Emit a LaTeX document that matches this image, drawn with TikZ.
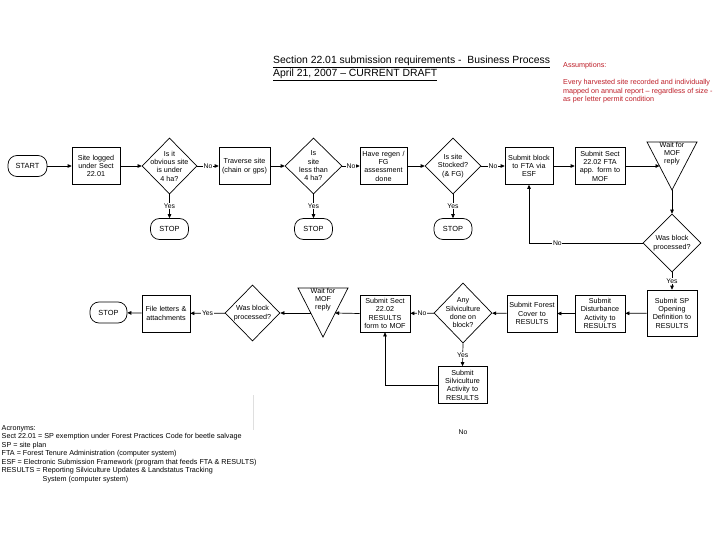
\documentclass[tikz,border=0pt]{standalone}
\usepackage{fontspec}
\setmainfont{Liberation Sans}
\usetikzlibrary{shapes.geometric,arrows.meta,calc}
\definecolor{asred}{RGB}{190,30,40}
\begin{document}
\begin{tikzpicture}[x=1pt,y=-1pt,
  box/.style={draw, line width=0.7pt, rectangle, align=center, inner sep=1pt, minimum height=37pt, font=\fontsize{7.2}{8.3}\selectfont},
  term/.style={draw, line width=0.7pt, rounded corners=9pt, minimum width=38pt, minimum height=21pt, inner sep=0pt, font=\fontsize{7.4}{9}\selectfont},
  dia/.style={draw, diamond, line width=0.7pt, minimum width=56pt, minimum height=56pt, inner sep=0pt},
  dtxt/.style={align=center, font=\fontsize{7.2}{8.3}\selectfont, inner sep=0pt},
  conn/.style={line width=0.7pt, -{Triangle[length=4pt,width=3.6pt]}},
  lab/.style={fill=white, inner sep=0.6pt, font=\fontsize{6.8}{8}\selectfont},
  plain/.style={inner sep=0pt, align=left, font=\fontsize{7.2}{8.5}\selectfont}]
\useasboundingbox (0,0) rectangle (720,540);
\fill[white] (0,0) rectangle (720,540);

% title
\node[inner sep=0pt, anchor=base west, font=\fontsize{10.4}{12.8}\selectfont] (title1) at (273,64) {\underline{Section 22.01 submission requirements -~ Business Process}};
\node[inner sep=0pt, anchor=base west, font=\fontsize{10.4}{12.8}\selectfont] (title2) at (273,76.5) {\underline{April 21, 2007 – CURRENT DRAFT}};

% assumptions
\node[plain, anchor=north west, text=asred] (assum) at (563,62.2) {Assumptions:\\[8.5pt]Every harvested site recorded and individually\\mapped on annual report – regardless of size -\\as per letter permit condition};

% top row
\node[term, minimum width=39pt] (start) at (27.5,166) {START};
\node[box, text width=46pt] (site) at (96,166) {Site logged\\under Sect\\22.01};
\node[dia, minimum width=55pt, label={[dtxt]center:Is it\\obvious site\\is under\\4 ha?}] (d1) at (169.5,166) {};
\node[box, text width=49pt] (trav) at (244.5,166) {Traverse site\\(chain or gps)};
\node[dia, minimum width=57pt, label={[dtxt]center:Is\\site\\less than\\4 ha?}] (d2) at (313.5,166) {};
\node[box, text width=45pt] (regen) at (383.5,166) {Have regen /\\FG\\assessment\\done};
\node[dia, label={[dtxt]center:Is site\\Stocked?\\(\& FG)}] (d3) at (453,166) {};
\node[box, text width=46pt] (esf) at (529,166) {Submit block\\to FTA via\\ESF};
\node[box, text width=48pt] (fta) at (600,166) {Submit Sect\\22.02 FTA\\app. form to\\MOF};

% triangle 1
\coordinate (t1a) at (647,142);
\coordinate (t1b) at (697,142);
\coordinate (t1c) at (672,190);
\coordinate (t1l) at (659.5,166);
\draw[line width=0.7pt] (t1a) -- (t1b) -- (t1c) -- cycle;
\node[dtxt] (tri1) at (672,153.5) {Wait for\\MOF\\reply};

\node[term] (stop1) at (169.5,229) {STOP};
\node[term] (stop2) at (313.5,229) {STOP};
\node[term] (stop3) at (453,229) {STOP};

\node[dia, minimum width=58pt, minimum height=58pt, label={[dtxt]center:Was block\\processed?}] (d4) at (672,243) {};

% second row
\node[box, text width=48pt, minimum height=46pt] (sp) at (672,313) {Submit SP\\Opening\\Definition to\\RESULTS};
\node[box, text width=48pt] (dist) at (600,313.5) {Submit\\Disturbance\\Activity to\\RESULTS};
\node[box, text width=48pt] (fc) at (532,313.5) {Submit Forest\\Cover to\\RESULTS};
\node[dia, minimum width=58pt, minimum height=60pt, label={[dtxt]center:Any\\Silviculture\\done on\\block?}] (d5) at (463,313) {};
\node[box, text width=48pt] (rf) at (385,313.5) {Submit Sect\\22.02\\RESULTS\\form to MOF};

% triangle 2
\coordinate (t2a) at (298,288);
\coordinate (t2b) at (348,288);
\coordinate (t2c) at (323,337);
\coordinate (t2r) at (335.2,313);
\coordinate (t2l) at (310.8,313);
\draw[line width=0.7pt] (t2a) -- (t2b) -- (t2c) -- cycle;
\node[dtxt] (tri2) at (323,299.5) {Wait for\\MOF\\reply};

\node[dia, minimum width=55pt, minimum height=56pt, label={[dtxt]center:Was block\\processed?}] (d6) at (252.5,313) {};
\node[box, text width=46pt] (file) at (166,313.5) {File letters \&\\attachments};
\node[term, minimum width=37pt] (stop4) at (108.5,312.5) {STOP};

\node[box, text width=47pt] (silv) at (462.5,385) {Submit\\Silviculture\\Activity to\\RESULTS};
\node[lab, fill=none] (nolab) at (463,432) {No};

% connectors
\draw[conn] (start) -- (site);
\draw[conn] (site) -- (d1);
\draw[conn] (d1) -- node[lab]{No} (trav);
\draw[conn] (d1) -- node[lab]{Yes} (stop1);
\draw[conn] (trav) -- (d2);
\draw[conn] (d2) -- node[lab]{No} (regen);
\draw[conn] (d2) -- node[lab]{Yes} (stop2);
\draw[conn] (regen) -- (d3);
\draw[conn] (d3) -- node[lab]{No} (esf);
\draw[conn] (d3) -- node[lab]{Yes} (stop3);
\draw[conn] (esf) -- (fta);
\draw[conn] (fta.east) -- (t1l);
\draw[conn] (t1c) -- (d4.north);
\draw[conn] (d4.west) -- node[lab, pos=0.75]{No} (esf.south |- d4.west) -- (esf.south);
\draw[conn] (d4.south) -- node[lab]{Yes} (sp.north);
\draw[conn] (sp) -- (dist);
\draw[conn] (dist) -- (fc);
\draw[conn] (fc) -- (d5);
\draw[conn] (d5) -- node[lab]{No} (rf);
\draw[conn] (d5.south) -- node[lab]{Yes} (silv.north);
\draw[conn] (silv.west) -| (rf.south);
\draw[conn] (rf.west) -- (t2r);
\draw[conn] (t2l) -- (d6.east);
\draw[conn] (d6) -- node[lab]{Yes} (file);
\draw[conn] (file) -- (stop4);

% faint line
\draw[gray!25, line width=0.5pt] (253,395) -- (253,430);

% acronyms
\node[plain, anchor=north west] (acro) at (1.5,425.3) {Acronyms:\\Sect 22.01 = SP exemption under Forest Practices Code for beetle salvage\\SP = site plan\\FTA = Forest Tenure Administration (computer system)\\ESF = Electronic Submission Framework (program that feeds FTA \& RESULTS)\\RESULTS = Reporting Silviculture Updates \& Landstatus Tracking\\\hspace*{41pt}System (computer system)};
\end{tikzpicture}
\end{document}
